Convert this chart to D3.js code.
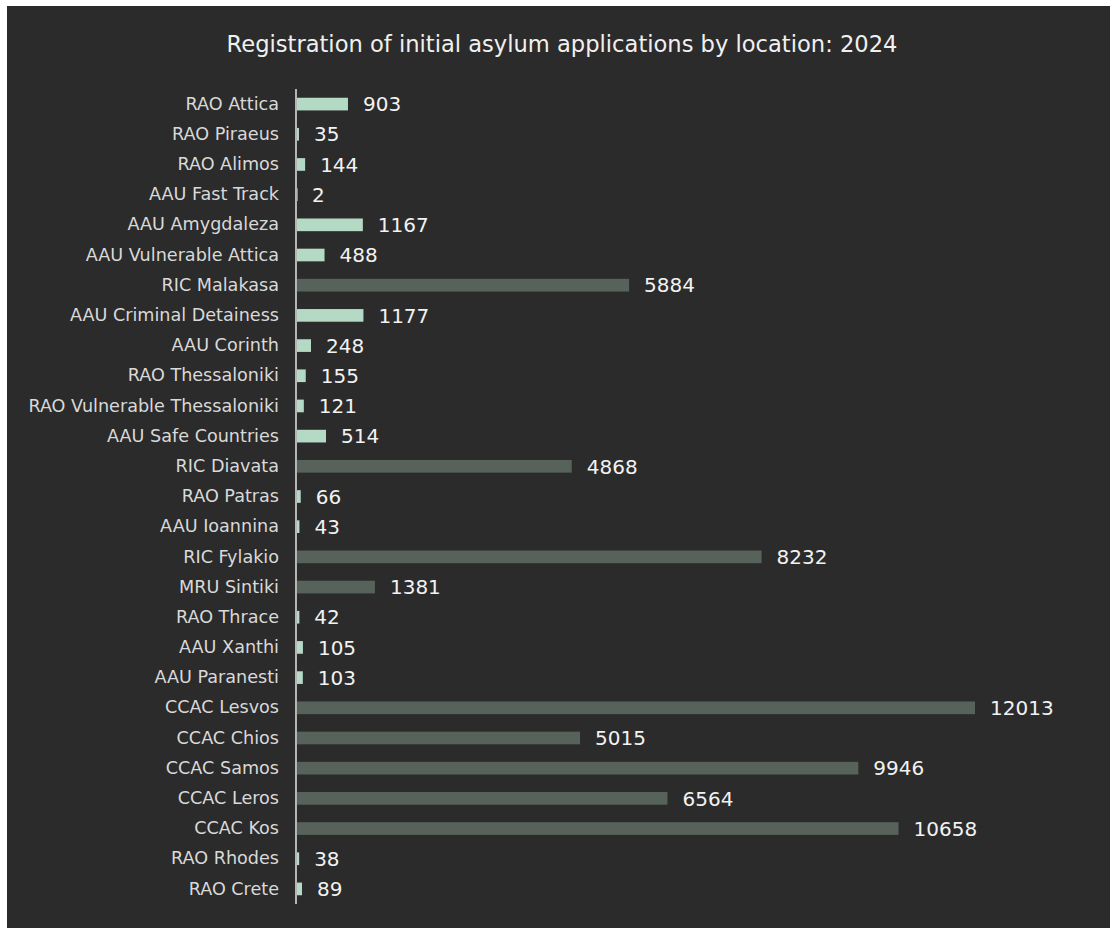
<!DOCTYPE html>
<html>
<head>
<meta charset="utf-8">
<script src="https://cdn.jsdelivr.net/npm/d3@7"></script>
<style>
  html, body { margin: 0; padding: 0; background: #ffffff; }
  svg { display: block; }
</style>
</head>
<body>
<svg id="chart" width="1110" height="928"></svg>
<script>
const categories = [
  "RAO Attica", "RAO Piraeus", "RAO Alimos", "AAU Fast Track", "AAU Amygdaleza",
  "AAU Vulnerable Attica", "RIC Malakasa", "AAU Criminal Detainess", "AAU Corinth",
  "RAO Thessaloniki", "RAO Vulnerable Thessaloniki", "AAU Safe Countries", "RIC Diavata",
  "RAO Patras", "AAU Ioannina", "RIC Fylakio", "MRU Sintiki", "RAO Thrace", "AAU Xanthi",
  "AAU Paranesti", "CCAC Lesvos", "CCAC Chios", "CCAC Samos", "CCAC Leros", "CCAC Kos",
  "RAO Rhodes", "RAO Crete"
];
const values = [
  903, 35, 144, 2, 1167,
  488, 5884, 1177, 248,
  155, 121, 514, 4868,
  66, 43, 8232, 1381, 42, 105,
  103, 12013, 5015, 9946, 6564, 10658,
  38, 89
];
// "office" = regional/asylum units, "centre" = reception & identification / closed centres
const groups = [
  "office", "office", "office", "office", "office",
  "office", "centre", "office", "office",
  "office", "office", "office", "centre",
  "office", "office", "centre", "centre", "office", "office",
  "office", "centre", "centre", "centre", "centre", "centre",
  "office", "office"
];
const title = "Registration of initial asylum applications by location: 2024";

const data = categories.map((c, i) => ({ cat: c, value: values[i], group: groups[i] }));

const svg = d3.select("#chart");
const W = 1110, H = 928;

svg.append("rect")
  .attr("x", 7).attr("y", 6)
  .attr("width", W - 7).attr("height", H - 6)
  .attr("fill", "#2b2b2b");

const x = d3.scaleLinear().domain([0, 12013]).range([297, 975]);
const y = d3.scaleBand().domain(categories).range([89, 904]).paddingInner(0.58).paddingOuter(0.29);

const color = d3.scaleOrdinal().domain(["office", "centre"]).range(["#b4d9c4", "#56625a"]);

const font = "'DejaVu Sans', sans-serif";

svg.append("text")
  .attr("x", 562).attr("y", 52)
  .attr("text-anchor", "middle")
  .attr("fill", "#f0f0f0")
  .style("font-family", font)
  .style("font-size", "22.6px")
  .text(title);

svg.append("g")
  .selectAll("rect")
  .data(data)
  .join("rect")
  .attr("x", x(0))
  .attr("y", d => y(d.cat))
  .attr("width", d => Math.max(0.6, x(d.value) - x(0)))
  .attr("height", y.bandwidth())
  .attr("fill", d => color(d.group));

// axis
const axis = d3.axisLeft(y).tickSize(0).tickPadding(17);
const gAxis = svg.append("g")
  .attr("transform", `translate(296,0)`)
  .call(axis);
gAxis.select(".domain")
  .attr("d", `M0,89V904`)
  .attr("stroke", "#d9d9d9")
  .attr("stroke-width", 1.6);
gAxis.selectAll(".tick text")
  .attr("fill", "#d9d9d9")
  .style("font-family", font)
  .style("font-size", "17.6px");

svg.append("g")
  .selectAll("text")
  .data(data)
  .join("text")
  .attr("x", d => x(d.value) + 15)
  .attr("y", d => y(d.cat) + y.bandwidth() / 2)
  .attr("dy", "0.36em")
  .attr("fill", "#f2f2f2")
  .style("font-family", font)
  .style("font-size", "20px")
  .text(d => d.value);
</script>
</body>
</html>
